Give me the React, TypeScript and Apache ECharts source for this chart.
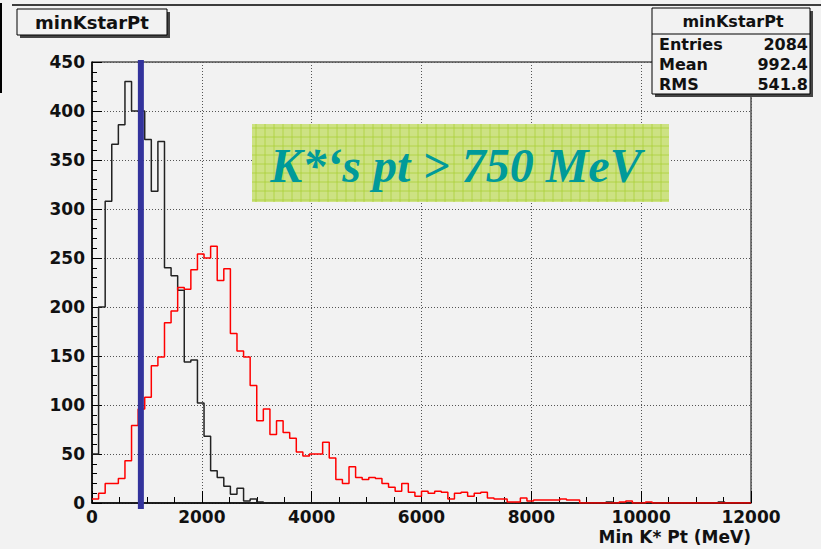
import { useEffect, useRef } from "react";
import * as echarts from "echarts";

// ---- data ----
const BIN_WIDTH = 120; // MeV per bin
const X_MIN = 0;
const X_MAX = 12000;
const X_INTERVAL = 2000;
const Y_MIN = 0;
const Y_MAX = 450;
const Y_INTERVAL = 50;
const CUT_MEV = 890;

const redCounts = [
  4, 10, 20, 20, 25, 43, 79, 96, 108, 140,
  149, 184, 196, 220, 218, 238, 254, 250, 262, 227,
  239, 173, 155, 149, 120, 84, 96, 70, 84, 72,
  66, 52, 48, 50, 50, 62, 46, 24, 20, 37,
  26, 24, 26, 25, 20, 16, 12, 20, 11, 7,
  12, 10, 12, 11, 4, 10, 11, 7, 10, 11,
  5, 4, 4, 1, 1, 5, 2, 3, 3, 3,
  3, 4, 3, 3, 0, 0, 0, 0, 0, 0,
  1, 2, 0, 0, 1, 0, 0, 0, 0, 0,
  0, 0, 0, 0, 0, 0, 0, 0, 0, 0,
];

const blackCounts = [
  50, 200, 308, 366, 386, 430, 400, 400, 371, 318,
  369, 240, 232, 217, 144, 146, 102, 68, 33, 26,
  17, 9, 15, 2, 4, 1, 0, 0, 0, 0,
  0, 0, 0, 0, 0, 0, 0, 0, 0, 0,
  0, 0, 0, 0, 0, 0, 0, 0, 0, 0,
  0, 0, 0, 0, 0, 0, 0, 0, 0, 0,
  0, 0, 0, 0, 0, 0, 0, 0, 0, 0,
  0, 0, 0, 0, 0, 0, 0, 0, 1, 0,
  0, 0, 0, 0, 0, 0, 0, 0, 0, 0,
  0, 0, 0, 0, 0, 1, 0, 0, 0, 0,
];

const histTitle = "minKstarPt";
const statsLabels = ["Entries", "Mean", "RMS"];
const statsValues = ["2084", "992.4", "541.8"];
const xAxisTitle = "Min K* Pt (MeV)";
const annotation = "K*\u2018s pt > 750 MeV";

function toSteps(counts: number[]) {
  const pts = counts.map((c, i) => [i * BIN_WIDTH, c]);
  pts.push([counts.length * BIN_WIDTH, counts[counts.length - 1]]);
  return pts;
}

const FONT = "DejaVu Sans";
const BG = "#f2f2f2";

export default function App() {
  const ref = useRef<HTMLDivElement>(null);
  useEffect(() => {
    document.body.style.margin = "0";
    const chart = echarts.init(ref.current!, null, { renderer: "svg" });

    const graphics: any[] = [];
    // outer frame bits
    graphics.push({ type: "line", z: 50, shape: { x1: 12, y1: 5, x2: 821, y2: 5 }, style: { stroke: "#000", lineWidth: 1.5 } });
    graphics.push({ type: "rect", z: 50, shape: { x: 0, y: 3, width: 2, height: 90 }, style: { fill: "#000" } });
    // title box
    graphics.push({ type: "rect", z: 50, shape: { x: 20, y: 12, width: 150, height: 26 }, style: { fill: "#444" } });
    graphics.push({ type: "rect", z: 51, shape: { x: 17, y: 9, width: 150, height: 26 }, style: { fill: BG, stroke: "#000", lineWidth: 1 } });
    graphics.push({ type: "text", z: 52, x: 92, y: 22.5, style: { text: histTitle, font: `bold 18px "${FONT}"`, fill: "#111", align: "center", verticalAlign: "middle" } });
    // stats box
    graphics.push({ type: "rect", z: 50, shape: { x: 655, y: 11, width: 158, height: 86 }, style: { fill: "#444" } });
    graphics.push({ type: "rect", z: 51, shape: { x: 652, y: 8, width: 158, height: 86 }, style: { fill: BG, stroke: "#000", lineWidth: 1 } });
    graphics.push({ type: "line", z: 52, shape: { x1: 652, y1: 34, x2: 810, y2: 34 }, style: { stroke: "#000", lineWidth: 1 } });
    graphics.push({ type: "text", z: 52, x: 733, y: 21, style: { text: histTitle, font: `bold 16px "${FONT}"`, fill: "#111", align: "center", verticalAlign: "middle" } });
    const rowY = [44, 64, 84.5];
    statsLabels.forEach((lab, i) => {
      graphics.push({ type: "text", z: 52, x: 659, y: rowY[i], style: { text: lab, font: `bold 16px "${FONT}"`, fill: "#111", align: "left", verticalAlign: "middle" } });
      graphics.push({ type: "text", z: 52, x: 808, y: rowY[i], style: { text: statsValues[i], font: `bold 16px "${FONT}"`, fill: "#111", align: "right", verticalAlign: "middle" } });
    });
    // annotation box
    const bx = 252, by = 124, bw = 417, bh = 78;
    graphics.push({ type: "rect", z: 40, shape: { x: bx, y: by, width: bw, height: bh }, style: { fill: "#cde283" } });
    for (let x = bx + 4; x < bx + bw; x += 9) {
      graphics.push({ type: "line", z: 41, shape: { x1: x, y1: by, x2: x, y2: by + bh }, style: { stroke: "rgba(170,206,50,0.7)", lineWidth: 1 } });
    }
    for (let y = by + 4; y < by + bh; y += 9) {
      graphics.push({ type: "line", z: 41, shape: { x1: bx, y1: y, x2: bx + bw, y2: y }, style: { stroke: "rgba(170,206,50,0.7)", lineWidth: 1 } });
    }
    graphics.push({ type: "text", z: 42, x: 456, y: 165, style: { text: annotation, font: `italic bold 48px "Liberation Serif"`, fill: "#009a9a", align: "center", verticalAlign: "middle" } });
    // x axis title
    graphics.push({ type: "text", z: 42, x: 751, y: 537, style: { text: xAxisTitle, font: `bold 17px "${FONT}"`, fill: "#111", align: "right", verticalAlign: "middle" } });

    const axisLabel = { color: "#111", fontFamily: FONT, fontWeight: "bold", fontSize: 17, formatter: (v: number) => String(v) };

    chart.setOption({
      animation: false,
      backgroundColor: BG,
      grid: { left: 92, right: 70, top: 62, bottom: 46, show: true, borderColor: "#000", borderWidth: 1, backgroundColor: "transparent" },
      xAxis: {
        type: "value",
        min: X_MIN,
        max: X_MAX,
        interval: X_INTERVAL,
        axisLine: { show: true, onZero: false, lineStyle: { color: "#000", width: 1.5 } },
        axisTick: { show: true, inside: true, length: 12, lineStyle: { color: "#000", width: 1 } },
        minorTick: { show: true, splitNumber: 4, length: 6, lineStyle: { color: "#000", width: 1 } },
        splitLine: { show: true, lineStyle: { type: [1, 2], color: "#555", width: 1 } },
        axisLabel: { ...axisLabel, margin: 5 },
      },
      yAxis: {
        type: "value",
        min: Y_MIN,
        max: Y_MAX,
        interval: Y_INTERVAL,
        axisLine: { show: true, onZero: false, lineStyle: { color: "#000", width: 1.5 } },
        axisTick: { show: true, inside: true, length: 10, lineStyle: { color: "#000", width: 1 } },
        minorTick: { show: true, splitNumber: 5, length: 5, lineStyle: { color: "#000", width: 1 } },
        splitLine: { show: true, lineStyle: { type: [1, 2], color: "#555", width: 1 } },
        axisLabel: { ...axisLabel, margin: 7 },
      },
      series: [
        {
          type: "line",
          step: "end",
          data: toSteps(blackCounts),
          symbol: "none",
          lineStyle: { color: "#222", width: 1.5 },
          z: 3,
        },
        {
          type: "line",
          step: "end",
          data: toSteps(redCounts),
          symbol: "none",
          lineStyle: { color: "#ff0000", width: 1.5 },
          z: 4,
        },
        {
          type: "line",
          data: [[CUT_MEV, -6], [CUT_MEV, 452]],
          symbol: "none",
          clip: false,
          lineStyle: { color: "#33339c", width: 6 },
          z: 5,
        },
      ],
      graphic: graphics,
    });
    return () => chart.dispose();
  }, []);
  return <div ref={ref} style={{ position: "fixed", left: 0, top: 0, width: 821, height: 549, background: BG }} />;
}
